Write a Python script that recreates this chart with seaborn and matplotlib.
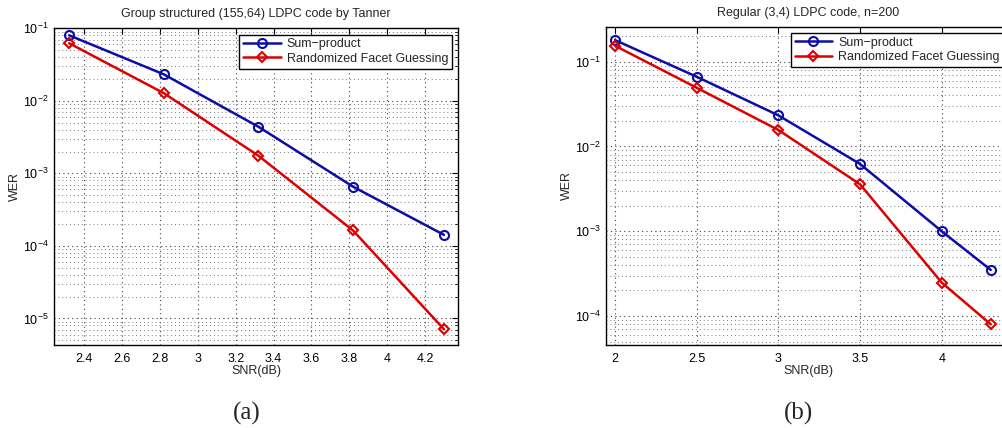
import numpy as np
import pandas as pd
import matplotlib
matplotlib.use("Agg")
import matplotlib.pyplot as plt
import seaborn as sns
from matplotlib.ticker import LogLocator, NullFormatter, MultipleLocator, FormatStrFormatter

# ---- data ----
snr_a = [2.32, 2.82, 3.32, 3.82, 4.30]
sp_a = [0.080, 0.0232, 0.00439, 6.55e-4, 1.42e-4]
rfg_a = [0.0622, 0.01276, 1.75e-3, 1.63e-4, 7.1e-6]

snr_b = [2.0, 2.5, 3.0, 3.5, 4.0, 4.3]
sp_b = [0.180, 0.0665, 0.0233, 0.00622, 1.0e-3, 3.5e-4]
rfg_b = [0.1545, 0.0493, 0.01566, 0.00358, 2.48e-4, 7.98e-5]

series_names = ["Sum\u2212product", "Randomized Facet Guessing"]
titles = ["Group structured (155,64) LDPC code by Tanner", "Regular (3,4) LDPC code, n=200"]
captions = ["(a)", "(b)"]

sns.set_theme(style="white")
plt.rcParams["font.family"] = ["Liberation Sans", "DejaVu Sans"]
plt.rcParams["mathtext.fontset"] = "custom"
plt.rcParams["mathtext.rm"] = "Liberation Sans"
plt.rcParams["mathtext.it"] = "Liberation Sans:italic"
plt.rcParams["mathtext.bf"] = "Liberation Sans:bold"

W, H = 1003, 428
fig = plt.figure(figsize=(W / 100, H / 100), dpi=100)

def px_axes(l, t, r, b):
    return fig.add_axes([l / W, 1 - b / H, (r - l) / W, (b - t) / H])

ax_a = px_axes(54, 28.3, 458.3, 345)
ax_b = px_axes(606, 26.7, 1010, 345)

colors = ["#0c0ca6", "#dd0000"]
markers = ["o", "D"]
msizes = [6.5, 5.5]

panels = [
    (ax_a, snr_a, [sp_a, rfg_a], (2.24, 4.376), (4.3e-6, 0.1), 0.2),
    (ax_b, snr_b, [sp_b, rfg_b], (1.945, 4.418), (4.55e-5, 0.259), 0.5),
]

fs = 9
dots = (0, (1, 3))
for i, (ax, x, ys, xl, yl, xstep) in enumerate(panels):
    ax.set_yscale("log")
    for name, y, c, m, ms in zip(series_names, ys, colors, markers, msizes):
        df = pd.DataFrame({"SNR": x, "WER": y})
        sns.lineplot(data=df, x="SNR", y="WER", ax=ax, color=c, linewidth=1.8,
                     marker=m, markersize=ms, markerfacecolor="none",
                     markeredgecolor=c, markeredgewidth=1.5, label=name)
    ax.set_xlim(*xl)
    ax.set_ylim(*yl)
    ax.xaxis.set_major_locator(MultipleLocator(xstep))
    ax.xaxis.set_major_formatter(FormatStrFormatter("%g"))
    ax.yaxis.set_major_locator(LogLocator(base=10, numticks=20))
    ax.yaxis.set_minor_locator(LogLocator(base=10, subs=np.arange(2, 10), numticks=20))
    ax.yaxis.set_minor_formatter(NullFormatter())
    ax.grid(True, which="major", axis="both", linestyle=dots, color="#444444", linewidth=0.8)
    ax.grid(True, which="minor", axis="y", linestyle=dots, color="#777777", linewidth=0.7)
    ax.tick_params(which="both", direction="in", top=True, right=True, labelsize=fs,
                   colors="black")
    ax.tick_params(which="major", length=4, width=0.8, pad=4)
    ax.tick_params(which="minor", length=2, width=0.6)
    ax.tick_params(axis="x", pad=6)
    for s in ax.spines.values():
        s.set_color("black")
        s.set_linewidth(1.0)
    ax.set_title(titles[i], fontsize=fs, pad=8)
    ax.set_xlabel("SNR(dB)", fontsize=fs)
    ax.set_ylabel("WER", fontsize=fs)
    ax.xaxis.set_label_coords(0.5, -0.062)
    ax.yaxis.set_label_coords(-0.082, 0.5)
    leg = ax.legend(loc="upper right", fontsize=fs, frameon=True, fancybox=False,
                    edgecolor="black", framealpha=1, handlelength=3.0,
                    borderaxespad=0.5, borderpad=0.3, labelspacing=0.2,
                    handletextpad=0.5)
    leg.get_frame().set_linewidth(1.0)

fig.text(247 / W, 1 - 413 / H, captions[0], fontsize=18, family="Liberation Serif",
         ha="center", va="center")
fig.text(799 / W, 1 - 413 / H, captions[1], fontsize=18, family="Liberation Serif",
         ha="center", va="center")

fig.savefig("out.png", dpi=100)
